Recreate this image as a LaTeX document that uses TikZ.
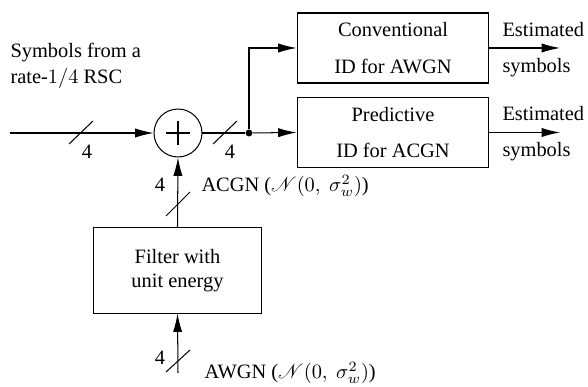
\documentclass[tikz,border=0pt]{standalone}
\usepackage{mathrsfs}
\usepackage{fontspec}
\setmainfont{Liberation Serif}
\usetikzlibrary{arrows.meta}

\begin{document}
\begin{tikzpicture}[x=0.49pt, y=-0.49pt, >={Latex[length=9pt,width=4.5pt]},
    line width=0.5pt,
    blk/.style={draw, align=center, inner sep=0pt},
    lbl/.style={inner sep=0pt}]
  \useasboundingbox (0,0) rectangle (588,387);

  % --- adder and input ---
  \node[draw, circle, minimum size=23.5pt, inner sep=0pt] (sum) at (178,133) {};
  \draw (sum.center) +(-12,0) -- +(12,0) (sum.center) +(0,-12) -- +(0,12);
  \coordinate (in) at (10,133);
  \node[lbl, anchor=base west, align=left] (src) at (10,84)
    {Symbols from a\\[1pt]rate-$1/4$ RSC};
  \draw[->] (in) -- (sum.west);
  \draw (81,133) ++(-12,11) -- ++(24,-23);
  \node[lbl] (n1) at (87,152) {4};

  % --- two detectors ---
  \node[blk, minimum width=94pt, minimum height=34.3pt] (conv) at (393,48)
    {Conventional\\[6pt]ID for AWGN};
  \node[blk, minimum width=94pt, minimum height=34.3pt] (pred) at (393,132.5)
    {Predictive\\[6pt]ID for ACGN};
  \node[circle, fill, inner sep=0pt, minimum size=3.4pt] (dot) at (249,133) {};
  \draw (sum.east) -- (dot);
  \draw (225,133) ++(-12,11) -- ++(24,-23);
  \node[lbl] (n2) at (230,152) {4};
  \draw[->] (dot) -- (pred.west);
  \draw[->] (dot) |- (conv.west);

  % --- outputs ---
  \coordinate (out1) at (560,48);
  \coordinate (out2) at (560,132.5);
  \draw[->] (conv.east) -- (out1);
  \draw[->] (pred.east) -- (out2);
  \node[lbl, anchor=base west] (e1) at (502,37) {Estimated};
  \node[lbl, anchor=base west] (s1) at (502,73) {symbols};
  \node[lbl, anchor=base west] (e2) at (502,121) {Estimated};
  \node[lbl, anchor=base west] (s2) at (502,157) {symbols};

  % --- noise path ---
  \node[blk, minimum width=82.8pt, minimum height=41.7pt] (filt) at (177.5,270.5)
    {Filter with\\unit energy};
  \draw[->] (filt.north) -- (sum.south);
  \draw (178,204) ++(-12,12) -- ++(24,-24);
  \node[lbl] (n3) at (160,185) {4};
  \node[lbl, anchor=west] (acgn) at (201,186)
    {ACGN ($\mathscr{N}(0,\ \sigma_w^2)$)};
  \coordinate (noise) at (178,373);
  \draw[->] (noise) -- (filt.south);
  \draw (178,361) ++(-12,11) -- ++(24,-22);
  \node[lbl] (n4) at (160,358) {4};
  \node[lbl, anchor=west] (awgn) at (204,373)
    {AWGN ($\mathscr{N}(0,\ \sigma_w^2)$)};
\end{tikzpicture}
\end{document}
